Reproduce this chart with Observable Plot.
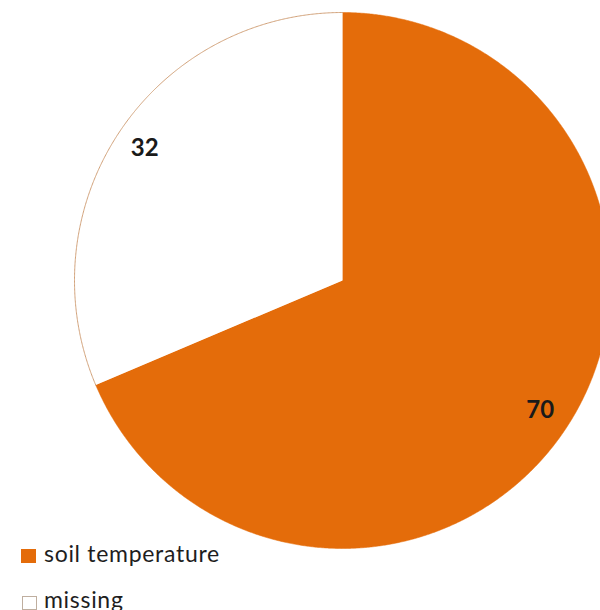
<!DOCTYPE html>
<html>
<head>
<meta charset="utf-8">
<script src="https://cdn.jsdelivr.net/npm/d3@7"></script>
<script src="https://cdn.jsdelivr.net/npm/@observablehq/plot@0.6"></script>
<style>
  html, body { margin: 0; padding: 0; background: #fff; overflow: hidden; }
  #wrap { position: relative; width: 600px; height: 610px; }
  .legend { position: absolute; left: 0; top: 0; font-family: Lato, "Open Sans", sans-serif; font-size: 23px; line-height: 1.2; letter-spacing: 0.7px; color: #1e1e1e; }
  .row { position: absolute; left: 44px; white-space: nowrap; }
  .sw { position: absolute; width: 15px; height: 14px; box-sizing: border-box; }
</style>
</head>
<body>
<div id="wrap"></div>
<script>
// Slice categories, values and colours
const categories = ["soil temperature", "missing"];
const values = [70, 32];
const fills = ["#e46c0a", "#ffffff"];
const outline = "#d2a27a";

// Pie layout: start at 12 o'clock, clockwise, in data order
const arcs = d3.pie().sort(null).value(d => d.value)(
  categories.map((c, i) => ({category: c, value: values[i]}))
);

// Points along a slice's outer arc, unit radius
function arcPoints(a) {
  const pts = [];
  const n = Math.max(2, Math.ceil((a.endAngle - a.startAngle) / 0.005));
  for (let k = 0; k <= n; ++k) {
    const t = a.startAngle + (a.endAngle - a.startAngle) * k / n;
    pts.push({x: Math.sin(t), y: Math.cos(t)});
  }
  return pts;
}
// Closed slice polygon: centre, arc, centre
const slicePoints = a => [{x: 0, y: 0}, ...arcPoints(a), {x: 0, y: 0}];

const labelR = 0.885;
const labels = arcs.map(a => {
  const m = (a.startAngle + a.endAngle) / 2;
  return {value: a.data.value, x: Math.sin(m) * labelR, y: Math.cos(m) * labelR};
});

const sliceMarks = arcs.map((a, i) => Plot.line(slicePoints(a), {
  x: "x", y: "y",
  fill: fills[i], stroke: i === 0 ? fills[i] : "none", strokeWidth: 0.5,
  curve: "linear", clip: "frame"
}));

const chart = Plot.plot({
  width: 600,
  height: 610,
  margin: 0,
  x: {domain: [-1, 1], range: [74, 610], axis: null},
  y: {domain: [-1, 1], range: [548, 12], axis: null},
  marks: [
    ...sliceMarks,
    // thin outline along the edge of the white slice
    Plot.line(arcPoints(arcs[1]), {x: "x", y: "y", stroke: outline, strokeWidth: 1, clip: "frame"}),
    Plot.text(labels, {
      x: "x", y: "y", text: d => String(d.value),
      fontSize: 24, fontWeight: "bold", fill: "#1a1a1a",
      fontFamily: "Lato, 'Open Sans', sans-serif",
      textAnchor: "middle", lineAnchor: "middle", dy: -1
    })
  ]
});

const wrap = document.getElementById("wrap");
wrap.appendChild(chart);

// Legend in the bottom-left corner
const legend = document.createElement("div");
legend.className = "legend";
const rows = [
  {top: 540, swTop: 549, swLeft: 21},
  {top: 586, swTop: 596, swLeft: 22}
];
categories.forEach((c, i) => {
  const sw = document.createElement("div");
  sw.className = "sw";
  sw.style.left = rows[i].swLeft + "px";
  sw.style.top = rows[i].swTop + "px";
  sw.style.background = fills[i];
  sw.style.border = i === 0 ? "none" : "1px solid #bfae9f";
  legend.appendChild(sw);
  const t = document.createElement("div");
  t.className = "row";
  t.style.top = rows[i].top + "px";
  t.textContent = c;
  legend.appendChild(t);
});
wrap.appendChild(legend);
</script>
</body>
</html>
